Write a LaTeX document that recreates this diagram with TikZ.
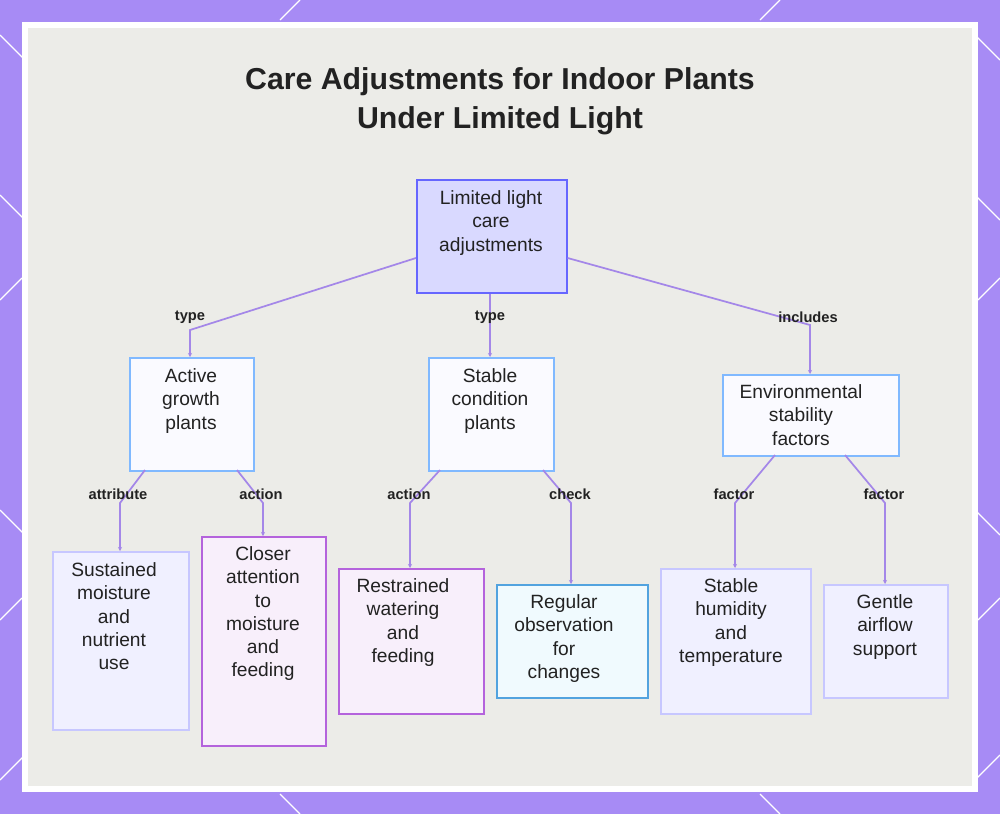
\documentclass[tikz,border=0pt]{standalone}
\usepackage{fontspec}
\setmainfont{Liberation Sans}
\usetikzlibrary{arrows.meta}
\definecolor{frame}{HTML}{A78BF5}
\definecolor{panel}{HTML}{ECECE8}
\definecolor{edge}{HTML}{A487E8}
\definecolor{txt}{HTML}{222222}
\definecolor{pb}{HTML}{B463DC}
\begin{document}
\begin{tikzpicture}[x=0.75pt,y=-0.75pt,
  box/.style={draw, line width=1.2pt, align=center, anchor=north west, inner sep=0pt, text=txt},
  tx/.style={text=txt, font=\fontsize{14.4}{17.4}\selectfont, align=center, anchor=north},
  blue/.style={box, fill=white!50!blue!4, draw=blue!55!cyan!50!white},
  root/.style={box, fill=blue!15, draw=blue!60!white},
  pale/.style={box, fill=blue!6, draw=blue!22},
  purp/.style={box, fill=pb!10, draw=pb},
  cyanb/.style={box, fill=cyan!6, draw=cyan!70!blue!70},
  lab/.style={font=\bfseries\fontsize{11}{12}\selectfont, text=txt, inner sep=1pt},
  con/.style={draw=edge, line width=1.3pt, -{Stealth[length=3pt,width=3pt]}}]
\useasboundingbox (0,0) rectangle (1000,814);
\fill[frame] (0,0) rectangle (1000,814);
\draw[white,line width=1pt] (280,20)--(300,0) (760,20)--(780,0) (280,794)--(300,814) (760,794)--(780,814)
  (0,195)--(25,220) (0,510)--(25,535) (975,195)--(1000,220) (975,510)--(1000,535)
  (0,780)--(25,755) (975,780)--(1000,755) (0,35)--(25,60) (975,35)--(1000,60)
  (0,300)--(22,278) (978,300)--(1000,278) (0,620)--(22,598) (978,620)--(1000,598);
\fill[white] (22,22) rectangle (978,792);
\fill[panel] (28,28) rectangle (972,786);
\node[font=\bfseries\fontsize{22.7}{29}\selectfont, text=txt, align=center] (title) at (500,101) {Care Adjustments for Indoor Plants\\Under Limited Light};
% nodes
\node[root, minimum width=150*0.75pt, minimum height=113*0.75pt] (r) at (416,179) {};
\node[tx] at (491,186) {Limited light\\care\\adjustments};
\node[blue, minimum width=124*0.75pt, minimum height=113*0.75pt] (a) at (129,357) {};
\node[tx] at (191,364) {Active\\growth\\plants};
\node[blue, minimum width=125*0.75pt, minimum height=113*0.75pt] (s) at (428,357) {};
\node[tx] at (490,364) {Stable\\condition\\plants};
\node[blue, minimum width=176*0.75pt, minimum height=81*0.75pt] (e) at (722,374) {};
\node[tx] at (801,380) {Environmental\\stability\\factors};
\node[pale, minimum width=136*0.75pt, minimum height=178*0.75pt] (l1) at (52,551) {};
\node[tx] at (114,558) {Sustained\\moisture\\and\\nutrient\\use};
\node[purp, minimum width=124*0.75pt, minimum height=209*0.75pt] (l2) at (201,536) {};
\node[tx] at (263,542) {Closer\\attention\\to\\moisture\\and\\feeding};
\node[purp, minimum width=145*0.75pt, minimum height=145*0.75pt] (l3) at (338,568) {};
\node[tx] at (403,574) {Restrained\\watering\\and\\feeding};
\node[cyanb, minimum width=151*0.75pt, minimum height=113*0.75pt] (l4) at (496,584) {};
\node[tx] at (564,590) {Regular\\observation\\for\\changes};
\node[pale, minimum width=150*0.75pt, minimum height=145*0.75pt] (l5) at (660,568) {};
\node[tx] at (731,574) {Stable\\humidity\\and\\temperature};
\node[pale, minimum width=124*0.75pt, minimum height=113*0.75pt] (l6) at (823,584) {};
\node[tx] at (885,590) {Gentle\\airflow\\support};
% connectors
\coordinate (k1) at (190,330); \coordinate (k3) at (810,325);
\draw[con] (r.west |- 0,258) -- (k1) -- (a.north -| k1);
\draw[con] (r.south -| 490,0) -- (s.north -| 490,0);
\draw[con] (r.east |- 0,258) -- (k3) -- (e.north -| k3);
\draw[con] (145,470) -- (120,503) -- (l1.north -| 120,0);
\draw[con] (237,470) -- (263,503) -- (l2.north -| 263,0);
\draw[con] (440,470) -- (410,503) -- (l3.north -| 410,0);
\draw[con] (543,470) -- (571,503) -- (l4.north -| 571,0);
\draw[con] (775,455) -- (735,503) -- (l5.north -| 735,0);
\draw[con] (845,455) -- (885,503) -- (l6.north -| 885,0);
\node[lab] at (190,317) {type};
\node[lab] at (490,317) {type};
\node[lab] at (808,317) {includes};
\node[lab] at (118,494) {attribute};
\node[lab] at (261,494) {action};
\node[lab] at (409,494) {action};
\node[lab] at (570,494) {check};
\node[lab] at (734,494) {factor};
\node[lab] at (884,494) {factor};
\end{tikzpicture}
\end{document}
